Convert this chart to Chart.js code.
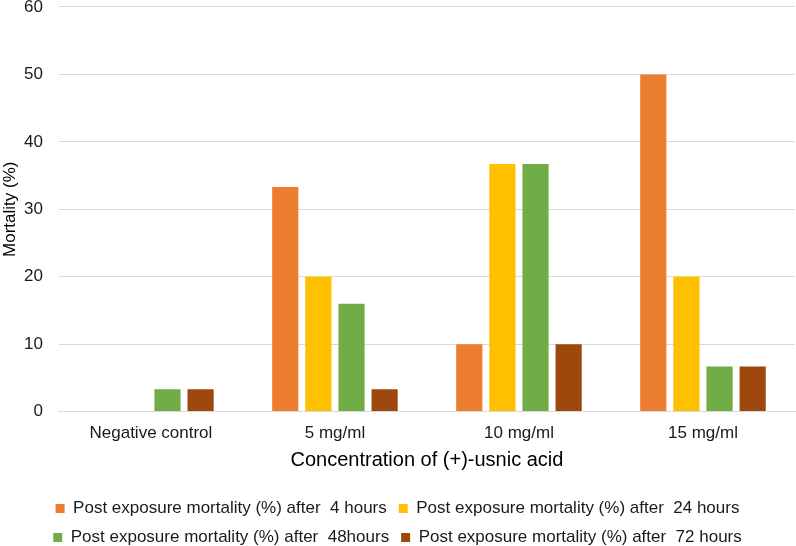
<!DOCTYPE html>
<html>
<head>
<meta charset="utf-8">
<script src="https://cdn.jsdelivr.net/npm/chart.js@4/dist/chart.umd.min.js"></script>
<style>
  html, body { margin: 0; padding: 0; background: #fff; }
  #wrap { width: 796px; height: 546px; }
</style>
</head>
<body>
<div id="wrap"><canvas id="c" width="796" height="546"></canvas></div>
<script>
const categories = ["Negative control", "5 mg/ml", "10 mg/ml", "15 mg/ml"];
const seriesNames = [
  "Post exposure mortality (%) after  4 hours",
  "Post exposure mortality (%) after  24 hours",
  "Post exposure mortality (%) after  48hours",
  "Post exposure mortality (%) after  72 hours"
];
const after4h  = [0, 33.3, 10, 50];
const after24h = [0, 20, 36.7, 20];
const after48h = [3.3, 16, 36.7, 6.7];
const after72h = [3.3, 3.3, 10, 6.7];
const yTicks = [0, 10, 20, 30, 40, 50, 60];
const colors = ["#ED7D31", "#FFC000", "#70AD47", "#9E480E"];

const seriesValues = [after4h, after24h, after48h, after72h];
const FONT = "'Liberation Sans', Arial, sans-serif";

new Chart(document.getElementById('c'), {
  type: 'bar',
  data: {
    labels: categories,
    datasets: seriesValues.map((vals, i) => ({
      label: seriesNames[i],
      data: vals,
      backgroundColor: colors[i],
      borderWidth: 0,
      categoryPercentage: 0.72,
      barPercentage: 0.79
    }))
  },
  options: {
    responsive: false,
    devicePixelRatio: 1,
    animation: false,
    layout: { padding: { top: 0, right: 1, left: 0, bottom: -10 } },
    plugins: {
      tooltip: { enabled: false },
      legend: {
        position: 'bottom',
        labels: {
          boxWidth: 9,
          boxHeight: 9,
          padding: 12,
          color: '#1a1a1a',
          font: { family: FONT, size: 17 }
        }
      }
    },
    scales: {
      x: {
        grid: { display: false, drawTicks: false },
        border: { display: true, color: '#d9d9d9' },
        ticks: { color: '#1a1a1a', font: { family: FONT, size: 17 }, padding: 12 },
        title: {
          display: true,
          text: 'Concentration of (+)-usnic acid',
          color: '#000000',
          font: { family: FONT, size: 20 },
          padding: { top: -8, bottom: 16 }
        }
      },
      y: {
        min: 0,
        max: 60,
        afterBuildTicks: (axis) => { axis.ticks = yTicks.map(v => ({ value: v })); },
        grid: { color: '#d9d9d9', drawTicks: true, tickLength: 16, tickColor: 'rgba(0,0,0,0)' },
        border: { display: false },
        ticks: { color: '#1a1a1a', font: { family: FONT, size: 17, lineHeight: 0.82 }, padding: 0 },
        title: {
          display: true,
          text: 'Mortality (%)',
          color: '#000000',
          font: { family: FONT, size: 17 },
          padding: { top: 0, bottom: 3.6 }
        }
      }
    }
  }
});
</script>
</body>
</html>
